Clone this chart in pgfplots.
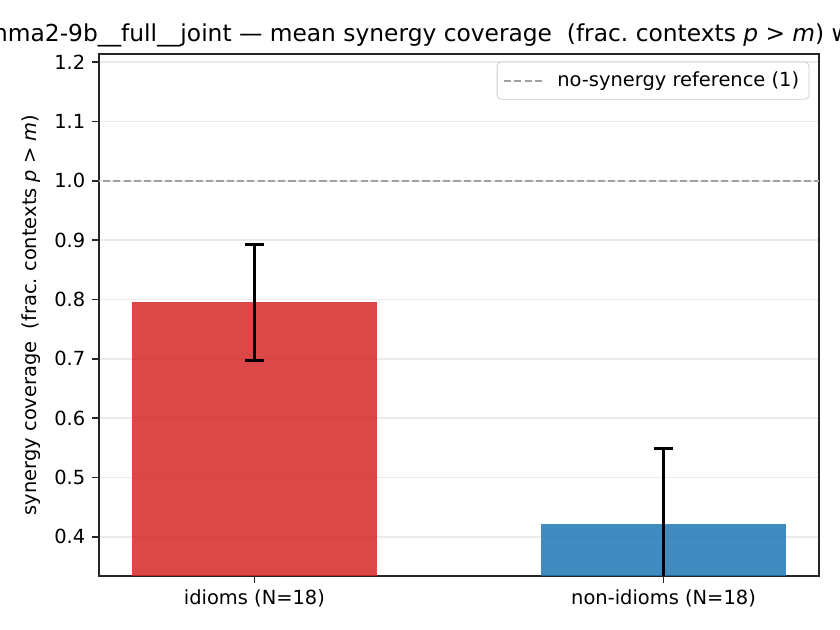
\documentclass[border=0pt]{standalone}
\usepackage{fontspec}
\setmainfont{DejaVu Sans}
\usepackage{pgfplots}
\pgfplotsset{compat=1.18}

\definecolor{barred}{RGB}{214,39,40}
\definecolor{barblue}{RGB}{31,119,180}
\definecolor{gridgray}{RGB}{235,235,235}
\definecolor{refgray}{RGB}{160,160,160}

\begin{document}
\begin{tikzpicture}
\begin{axis}[
    at={(50.9pt,27.8pt)}, anchor=south west,
    scale only axis,
    width=370.3pt, height=268.5pt,
    xmin=-0.38, xmax=1.38,
    ymin=0.334, ymax=1.214,
    xtick={0,1},
    xticklabels={idioms (N=18), non-idioms (N=18)},
    ytick={0.4,0.5,...,1.2},
    yticklabel style={/pgf/number format/.cd, fixed, fixed zerofill, precision=1},
    /pgf/number format/assume math mode=true,
    xtick pos=bottom, ytick pos=left,
    tick align=outside,
    major tick length=3.5pt,
    tick style={black!85, line width=0.8pt},
    axis line style={black!85, line width=0.8pt},
    ymajorgrids=true,
    grid style={gridgray, line width=0.8pt},
    ylabel={synergy coverage\ \ (frac.\ contexts \textit{p} > \textit{m})},
    ticklabel style={font=\normalsize},
    legend style={at={(1,1)}, xshift=-5pt, yshift=-4pt, anchor=north east, draw=black!20,
        rounded corners=2pt, font=\normalsize, inner xsep=3pt, inner ysep=3pt},
    legend cell align=left,
    legend image code/.code={\draw[#1] (0pt,0pt) -- (20pt,0pt); \path (25pt,0pt);},
]
\addplot[ybar, bar width=0.6, bar shift=0pt, fill=barred, fill opacity=0.85, draw=none, forget plot,
    error bars/.cd, y dir=both, y explicit,
    error bar style={draw=black, draw opacity=1, line width=1.5pt},
    error mark options={draw=black, line width=1.5pt, mark size=5.1pt, rotate=90}]
    coordinates {(0,0.795) +- (0,0.098)};
\addplot[ybar, bar width=0.6, bar shift=0pt, fill=barblue, fill opacity=0.85, draw=none, forget plot,
    error bars/.cd, y dir=both, y explicit,
    error bar style={draw=black, draw opacity=1, line width=1.5pt},
    error mark options={draw=black, line width=1.5pt, mark size=5.1pt, rotate=90}]
    coordinates {(1,0.422) +- (0,0.127)};
\addplot[refgray, line width=1pt, dash pattern=on 3.7pt off 1.6pt]
    coordinates {(-1,1.0) (2,1.0)};
\addlegendentry{no-synergy reference (1)}
\end{axis}
\node[anchor=base, font=\large] at (238.4pt,302.6pt)
    {gemma2-9b\_\_full\_\_joint — mean synergy coverage\ \ (frac.\ contexts \textit{p} > \textit{m}) with 95\% CI};
\pgfresetboundingbox
\path[use as bounding box] (0,0) rectangle (432pt,324pt);
\end{tikzpicture}
\end{document}
